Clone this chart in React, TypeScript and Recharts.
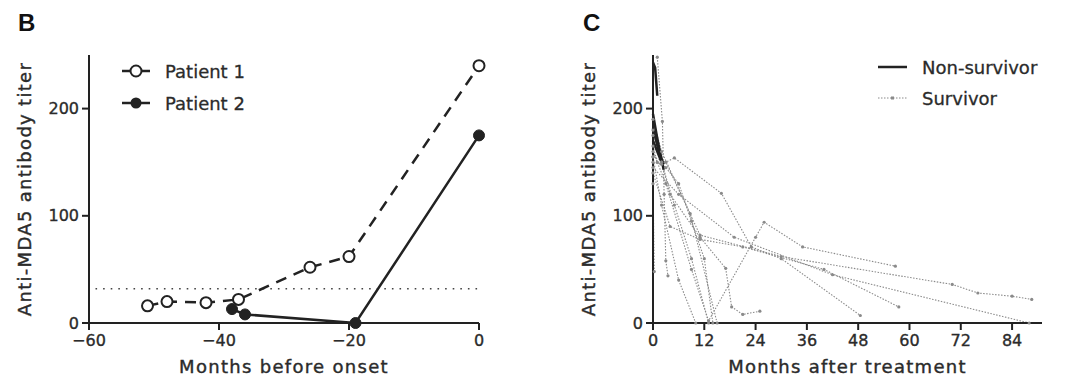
import React from "react";
import { LineChart, Line, XAxis, YAxis, Legend, Label } from "recharts";

const FONT = "'DejaVu Sans', 'Liberation Sans', sans-serif";
const INK = "#222";
const TEXT = "#2b2b2b";
const GREY = "#8a8a8a";

// Panel B — titer before onset
const P1_MONTHS = [-51, -48, -42, -37, -26, -20, 0];
const P1_TITER = [16, 20, 19, 22, 52, 62, 240];
const P2_MONTHS = [-38, -36, -19, 0];
const P2_TITER = [13, 8, 0, 175];
const CUTOFF = 32;
const CUTOFF_FROM = -59;
const CUTOFF_TO = 0;
const B_X_TICKS = [-60, -40, -20, 0];
const Y_TICKS = [0, 100, 200];

// Panel C — titer after treatment, one list of [month, titer] per patient
const C_X_TICKS = [0, 12, 24, 36, 48, 60, 72, 84];
const NON_SURVIVORS: [number, number][][] = [
  [[0, 243], [0.5, 238], [1, 212]],
  [[0, 195], [1, 172], [2.5, 143]],
  [[0, 182], [1.5, 158], [2.5, 148]],
  [[0, 170], [1, 160], [2, 150]],
];
const SURVIVORS: [number, number][][] = [
  [[0, 150], [2, 148], [5, 154], [16, 121], [23, 71], [30, 60], [48.5, 7]],
  [[0, 160], [3, 130], [9, 50], [13, 2], [24, 80], [26, 94], [35, 71], [56.7, 53]],
  [[0, 140], [4, 90], [11, 78], [21, 71], [40, 50], [57.5, 15]],
  [[0, 155], [3, 150], [11, 82], [30, 62], [70, 36], [76, 28], [84, 25], [88.6, 22]],
  [[0, 145], [6, 120], [19, 80], [42, 45], [88, 0]],
  [[0, 175], [2, 150], [5, 110], [9, 60], [13, 0]],
  [[0, 155], [2, 110], [6, 40], [10, 0]],
  [[0, 190], [2, 160], [8.7, 102], [15, 0]],
  [[1, 248], [2.2, 188], [2.6, 120], [3, 58], [3.5, 44]],
  [[0, 180], [2, 150], [4, 120], [11, 80], [17, 51], [18.4, 15], [21, 8], [25, 11]],
  [[0, 130], [0.3, 48]],
  [[0, 165], [1, 150], [3, 145], [6, 130], [9, 95], [12, 60], [14, 0]],
];

const toPoints = (xs: number[], ys: number[]) => xs.map((x, i) => ({ x, y: ys[i] }));
const fromPairs = (pairs: [number, number][]) => pairs.map(([x, y]) => ({ x, y }));

const axisStyle = { stroke: INK, strokeWidth: 2 };
const tickStyle = { fill: TEXT, stroke: TEXT, strokeWidth: 0.35, fontSize: 16, fontFamily: FONT };
const minus = (v: number) => String(v).replace("-", "\u2212");

// slightly heavy grey type, like the scanned figure
const titleStyle = {
  fontSize: 18,
  fontFamily: FONT,
  fill: TEXT,
  stroke: TEXT,
  strokeWidth: 0.4,
  letterSpacing: 1.3,
};

const legendText = { fontSize: 18, fontFamily: FONT, fill: TEXT, stroke: TEXT, strokeWidth: 0.3 };

function BLegend() {
  return (
    <svg width={200} height={66} style={{ display: "block" }}>
      <line x1={7} x2={35} y1={16} y2={16} stroke={INK} strokeWidth={2.5} />
      <circle cx={21} cy={16} r={5.5} fill="#fff" stroke={INK} strokeWidth={2} />
      <text x={50} y={16} dominantBaseline="central" {...legendText}>
        Patient 1
      </text>
      <line x1={7} x2={35} y1={48} y2={48} stroke={INK} strokeWidth={2.5} />
      <circle cx={21} cy={48} r={5.5} fill={INK} />
      <text x={50} y={48} dominantBaseline="central" {...legendText}>
        Patient 2
      </text>
    </svg>
  );
}

function CLegend() {
  return (
    <svg width={200} height={66} style={{ display: "block" }}>
      <line x1={3} x2={32} y1={17} y2={17} stroke={INK} strokeWidth={2.5} />
      <text x={47} y={17} dominantBaseline="central" {...legendText}>
        Non-survivor
      </text>
      <line x1={3} x2={32} y1={48} y2={48} stroke={GREY} strokeWidth={1} strokeDasharray="1.5 1.5" />
      <rect x={16} y={46.5} width={3} height={3} fill={GREY} />
      <text x={47} y={48} dominantBaseline="central" {...legendText}>
        Survivor
      </text>
    </svg>
  );
}

const panelLetter = (left: number): React.CSSProperties => ({
  position: "absolute",
  left,
  top: 11,
  fontFamily: "'Liberation Sans', Arial, sans-serif",
  fontWeight: 700,
  fontSize: 24,
  lineHeight: 1,
  color: "#111",
});

function PanelB() {
  const p1 = toPoints(P1_MONTHS, P1_TITER);
  const p2 = toPoints(P2_MONTHS, P2_TITER);
  const cutoff = [
    { x: CUTOFF_FROM, y: CUTOFF },
    { x: CUTOFF_TO, y: CUTOFF },
  ];
  return (
    <LineChart width={540} height={386} margin={{ top: 55, right: 61, bottom: 0, left: 0 }}>
      <XAxis
        type="number"
        dataKey="x"
        domain={[-60, 0]}
        ticks={B_X_TICKS}
        tickFormatter={minus}
        height={63}
        axisLine={axisStyle}
        tickLine={axisStyle}
        tickSize={7}
        tickMargin={5}
        tick={tickStyle}
      >
        <Label value="Months before onset" position="insideBottom" offset={13} style={titleStyle} />
      </XAxis>
      <YAxis
        type="number"
        dataKey="y"
        domain={[0, 250]}
        ticks={Y_TICKS}
        width={89}
        axisLine={axisStyle}
        tickLine={axisStyle}
        tickSize={7}
        tickMargin={3}
        tick={tickStyle}
      >
        <Label
          value="Anti-MDA5 antibody titer"
          angle={-90}
          position="insideLeft"
          offset={25}
          style={{ ...titleStyle, textAnchor: "middle" }}
        />
      </YAxis>
      <Line
        data={cutoff}
        dataKey="y"
        stroke="#444"
        strokeWidth={1.6}
        strokeDasharray="1.6 6"
        dot={false}
        isAnimationActive={false}
      />
      <Line
        data={p2}
        dataKey="y"
        stroke={INK}
        strokeWidth={2.5}
        dot={{ r: 5.5, fill: INK, stroke: INK, strokeWidth: 1 }}
        isAnimationActive={false}
      />
      <Line
        data={p1}
        dataKey="y"
        stroke={INK}
        strokeWidth={2.5}
        strokeDasharray="11 8"
        dot={{ r: 5.5, fill: "#fff", stroke: INK, strokeWidth: 2, strokeDasharray: "" }}
        isAnimationActive={false}
      />
      <Legend
        layout="vertical"
        align="center"
        verticalAlign="middle"
        content={() => <BLegend />}
        wrapperStyle={{ left: 115, top: 55, width: 200 }}
      />
    </LineChart>
  );
}

function PanelC() {
  return (
    <LineChart width={540} height={386} margin={{ top: 55, right: 38, bottom: 0, left: 0 }}>
      <XAxis
        type="number"
        dataKey="x"
        domain={[0, 91]}
        ticks={C_X_TICKS}
        height={63}
        axisLine={axisStyle}
        tickLine={axisStyle}
        tickSize={7}
        tickMargin={5}
        tick={tickStyle}
      >
        <Label value="Months after treatment" position="insideBottom" offset={13} style={titleStyle} />
      </XAxis>
      <YAxis
        type="number"
        dataKey="y"
        domain={[0, 250]}
        ticks={Y_TICKS}
        width={113}
        axisLine={axisStyle}
        tickLine={axisStyle}
        tickSize={7}
        tickMargin={3}
        tick={tickStyle}
      >
        <Label
          value="Anti-MDA5 antibody titer"
          angle={-90}
          position="insideLeft"
          offset={49}
          style={{ ...titleStyle, textAnchor: "middle" }}
        />
      </YAxis>
      {SURVIVORS.map((s, i) => (
        <Line
          key={`s-${i}`}
          data={fromPairs(s)}
          dataKey="y"
          stroke={GREY}
          strokeWidth={1.1}
          strokeDasharray="1.5 1.5"
          dot={{ r: 1.6, fill: GREY, stroke: "none" }}
          isAnimationActive={false}
        />
      ))}
      {NON_SURVIVORS.map((s, i) => (
        <Line
          key={`n-${i}`}
          data={fromPairs(s)}
          dataKey="y"
          stroke={INK}
          strokeWidth={2.5}
          dot={false}
          isAnimationActive={false}
        />
      ))}
      <Legend
        layout="vertical"
        align="center"
        verticalAlign="middle"
        content={() => <CLegend />}
        wrapperStyle={{ left: 335, top: 50, width: 200 }}
      />
    </LineChart>
  );
}

export default function App() {
  return (
    <div
      style={{
        position: "absolute",
        left: 0,
        top: 0,
        width: 1080,
        height: 386,
        background: "#fff",
        display: "flex",
      }}
    >
      <div style={{ position: "relative", width: 540, height: 386 }}>
        <PanelB />
        <div style={panelLetter(18)}>B</div>
      </div>
      <div style={{ position: "relative", width: 540, height: 386 }}>
        <PanelC />
        <div style={panelLetter(43)}>C</div>
      </div>
    </div>
  );
}
